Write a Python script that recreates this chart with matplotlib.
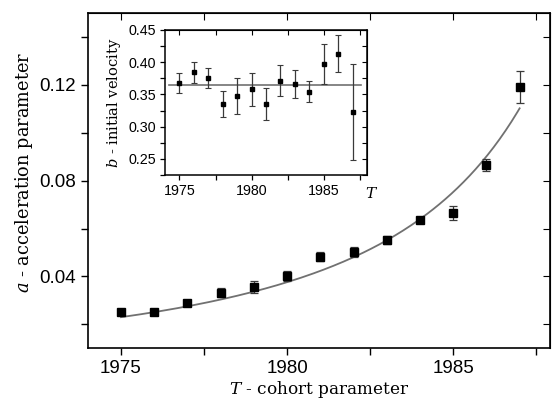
import numpy as np
import matplotlib
matplotlib.use("Agg")
import matplotlib.pyplot as plt
from matplotlib.ticker import MultipleLocator

plt.rcParams["mathtext.fontset"] = "custom"
plt.rcParams["mathtext.it"] = "DejaVu Serif:italic"
plt.rcParams["mathtext.rm"] = "DejaVu Serif"

# cohort years
cohort = [1975, 1976, 1977, 1978, 1979, 1980, 1981,
          1982, 1983, 1984, 1985, 1986, 1987]

# a - acceleration parameter (main panel)
accel = [0.0251, 0.0253, 0.0288, 0.0333, 0.0355, 0.0403, 0.0483,
         0.0503, 0.0552, 0.0635, 0.0664, 0.0865, 0.1190]
accel_err = [0.0010, 0.0013, 0.0013, 0.0017, 0.0024, 0.0021, 0.0019,
             0.0022, 0.0018, 0.0010, 0.0029, 0.0026, 0.0066]

# b - initial velocity (inset)
veloc = [0.3675, 0.384, 0.375, 0.3355, 0.348, 0.3576, 0.335,
         0.371, 0.3664, 0.354, 0.397, 0.413, 0.3226]
veloc_err = [0.015, 0.016, 0.0155, 0.020, 0.028, 0.026, 0.025,
             0.024, 0.022, 0.016, 0.031, 0.029, 0.074]
veloc_mean = 0.365

# fitted curve a(T) = A * (T0 - T)^(-p), normalised at 1975
FIT_A0 = 0.023
FIT_T0 = 1995.0
FIT_P = 1.71

SANS = "Liberation Sans"
SERIF = "DejaVu Serif"

fig = plt.figure(figsize=(5.52, 4.03), dpi=100)
ax = fig.add_axes([0.159, 0.1357, 0.8365, 0.832])

T_fit = np.linspace(cohort[0], cohort[-1], 200)
a_fit = FIT_A0 * ((FIT_T0 - cohort[0]) / (FIT_T0 - T_fit)) ** FIT_P
ax.plot(T_fit, a_fit, color="#717171", lw=1.3, zorder=2)
ax.errorbar(cohort, accel, yerr=accel_err, fmt="s", color="black",
            ms=5.5, ecolor="#3a3a3a", elinewidth=0.9, capsize=3,
            capthick=0.9, zorder=3)

ax.set_xlim(1974, 1987.9)
ax.set_ylim(0.01, 0.15)
ax.xaxis.set_major_locator(MultipleLocator(5))
ax.xaxis.set_minor_locator(MultipleLocator(2.5))
ax.yaxis.set_minor_locator(MultipleLocator(0.02))
ax.set_yticks([0.04, 0.08, 0.12])
ax.set_yticklabels(["0.04", "0.08", "0.12"])
ax.tick_params(which="both", direction="out", length=5, width=1,
               labelsize=13.5, top=False, right=False)
sec_top = ax.secondary_xaxis("top")
sec_top.xaxis.set_major_locator(MultipleLocator(2.5))
sec_top.tick_params(direction="in", length=5, labeltop=False)
sec_right = ax.secondary_yaxis("right")
sec_right.yaxis.set_major_locator(MultipleLocator(0.02))
sec_right.tick_params(direction="in", length=5, labelright=False)
for lab in ax.get_xticklabels() + ax.get_yticklabels():
    lab.set_family(SANS)
for sp in ax.spines.values():
    sp.set_linewidth(1.2)
ax.set_xlabel("$T$ - cohort parameter", fontsize=12.2, family=SERIF,
              labelpad=1)
ax.set_ylabel("$a$ - acceleration parameter", fontsize=12.8, family=SERIF,
              labelpad=6)
ax.yaxis.set_label_coords(-0.115, 0.525)

# inset
ins = fig.add_axes([0.299, 0.5658, 0.366, 0.36])
ins.axhline(veloc_mean, xmin=0.02, xmax=0.97, color="#717171", lw=1.2,
            zorder=2)
ins.errorbar(cohort, veloc, yerr=veloc_err, fmt="s", color="black",
             ms=3.2, ecolor="#3a3a3a", elinewidth=0.9, capsize=2.5,
             capthick=0.8, zorder=3)
ins.set_xlim(1974, 1988)
ins.set_ylim(0.225, 0.45)
ins.xaxis.set_major_locator(MultipleLocator(5))
ins.xaxis.set_minor_locator(MultipleLocator(2.5))
ins.yaxis.set_minor_locator(MultipleLocator(0.025))
ins.set_yticks([0.25, 0.30, 0.35, 0.40, 0.45])
ins.set_yticklabels(["0.25", "0.30", "0.35", "0.40", "0.45"])
ins.tick_params(which="both", direction="out", length=3.5, width=0.9,
                labelsize=10.3, pad=3)
it = ins.secondary_xaxis("top")
it.xaxis.set_major_locator(MultipleLocator(2.5))
it.tick_params(direction="in", length=3.5, labeltop=False)
ir = ins.secondary_yaxis("right")
ir.yaxis.set_major_locator(MultipleLocator(0.025))
ir.tick_params(direction="in", length=3.5, labelright=False)
for lab in ins.get_xticklabels() + ins.get_yticklabels():
    lab.set_family(SANS)
for sp in ins.spines.values():
    sp.set_linewidth(1.1)
ins.set_ylabel("$b$ - initial velocity", fontsize=10.5, family=SERIF,
               labelpad=4)
ins.text(0.99, -0.13, "$T$", transform=ins.transAxes, fontsize=11,
         ha="left", va="center")

fig.savefig("out.png", dpi=100)
